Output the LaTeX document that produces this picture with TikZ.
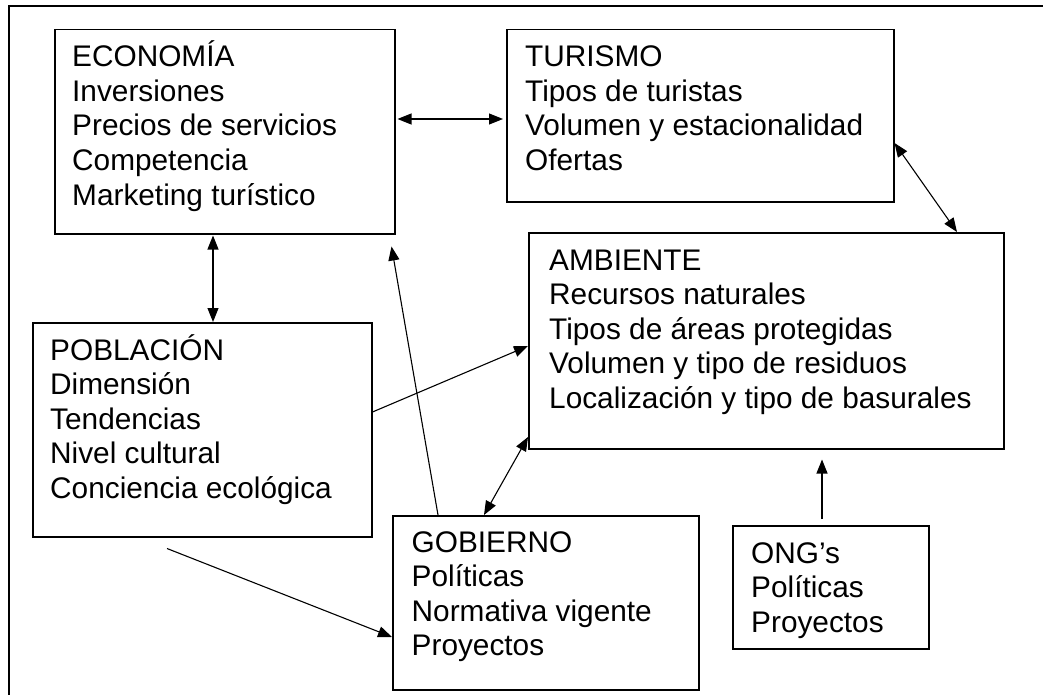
\documentclass[tikz,border=0pt]{standalone}
\usepackage{fontspec}
\setmainfont{Liberation Sans}
\usetikzlibrary{arrows.meta,calc}
\begin{document}
\begin{tikzpicture}[x=1pt,y=-1pt,
  box/.style={draw,line width=1.5pt,inner sep=0pt,anchor=north west},
  txt/.style={anchor=base west,inner sep=0pt,font=\fontsize{29.8}{34.5}\selectfont},
  conn/.style={line width=1.1pt,-{Triangle[length=14pt,width=11pt]}},
  dconn/.style={line width=1.1pt,{Triangle[length=14pt,width=11pt]}-{Triangle[length=14pt,width=11pt]}}]
\useasboundingbox (0,0) rectangle (1043,695);
% outer frame
\draw[line width=1.5pt] (1045,6) -- (9,6) -- (9,697);
% boxes
\node[box,minimum width=340pt,minimum height=204pt] (econ) at (54,29) {};
\node[box,minimum width=387pt,minimum height=172pt] (tur) at (506,29) {};
\node[box,minimum width=475pt,minimum height=216pt] (amb) at (528,232) {};
\node[box,minimum width=339pt,minimum height=214pt] (pob) at (32,322) {};
\node[box,minimum width=306pt,minimum height=174pt] (gob) at (392,515) {};
\node[box,minimum width=196pt,minimum height=123pt] (ong) at (732,525) {};
% texts
\foreach \t [count=\i from 0] in {ECONOMÍA,Inversiones,Precios de servicios,Competencia,Marketing turístico}
  \node[txt] (econ-t\i) at (72,{67+34.5*\i}) {\t};
\foreach \t [count=\i from 0] in {TURISMO,Tipos de turistas,Volumen y estacionalidad,Ofertas}
  \node[txt] (tur-t\i) at (525,{67+34.5*\i}) {\t};
\foreach \t [count=\i from 0] in {AMBIENTE,Recursos naturales,Tipos de áreas protegidas,Volumen y tipo de residuos,Localización y tipo de basurales}
  \node[txt] (amb-t\i) at (549,{270+34.5*\i}) {\t};
\foreach \t [count=\i from 0] in {POBLACIÓN,Dimensión,Tendencias,Nivel cultural,Conciencia ecológica}
  \node[txt] (pob-t\i) at (50,{360+34.5*\i}) {\t};
\foreach \t [count=\i from 0] in {GOBIERNO,Políticas,Normativa vigente,Proyectos}
  \node[txt] (gob-t\i) at (411.5,{552+34.5*\i}) {\t};
\foreach \t [count=\i from 0] in {ONG’s,Políticas,Proyectos}
  \node[txt] (ong-t\i) at (751,{563+34.5*\i}) {\t};
% connectors
\draw[dconn,shorten <=2pt,shorten >=3pt] (econ.east |- 0,119) -- (tur.west |- 0,119);
\draw[dconn] (tur.east |- 0,143) -- (amb.north -| 957,0);
\draw[dconn,shorten <=1pt] (econ.south -| 213,0) -- (pob.north -| 213,0);
\draw[conn] (gob.north -| 438,0) -- ($(econ.south east)+(-4,12)$);
\draw[conn] (pob.east |- 0,412) -- (amb.west |- 0,346);
\draw[conn] ($(pob.south west)+(135,11)$) -- (gob.west |- 0,637);
\draw[dconn] (amb.west |- 0,437) -- (gob.north -| 484,0);
\draw[conn] ($(ong.north west)+(90,-6)$) -- ($(amb.south west)+(294,10)$);
\end{tikzpicture}
\end{document}
